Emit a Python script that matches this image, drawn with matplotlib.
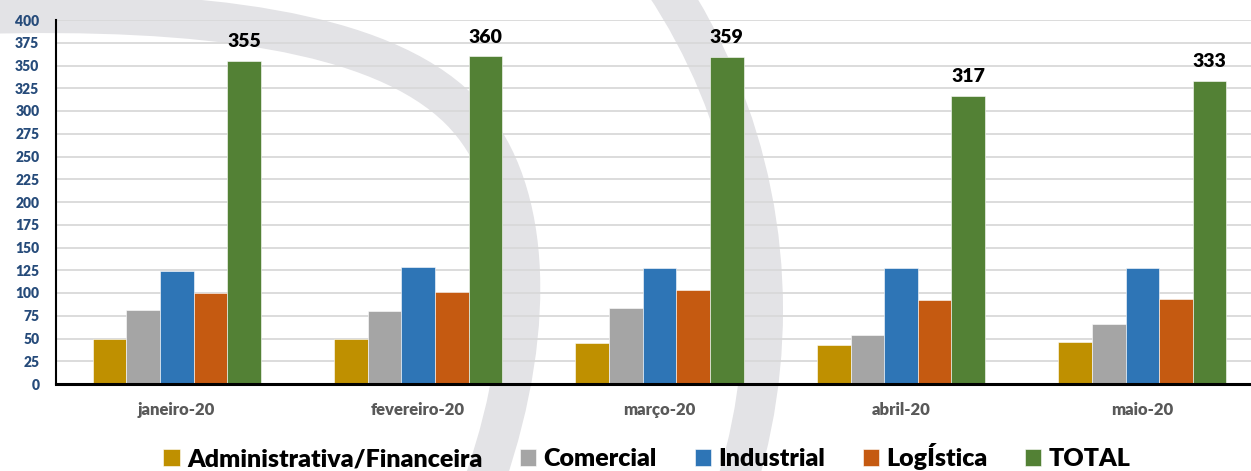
import matplotlib
matplotlib.use("Agg")
import matplotlib.pyplot as plt
import numpy as np
from matplotlib.path import Path
from matplotlib.patches import PathPatch, Circle

plt.rcParams['font.family'] = ['Lato', 'DejaVu Sans']

months = ["janeiro-20", "fevereiro-20", "março-20", "abril-20", "maio-20"]
series_names = ["Administrativa/Financeira", "Comercial", "Industrial", "LogÍstica", "TOTAL"]
admin = [50, 50, 45, 43, 46]
comercial = [81, 80, 83, 54, 66]
industrial = [124, 129, 128, 128, 128]
logistica = [100, 101, 103, 92, 93]
total = [355, 360, 359, 317, 333]
yticks = list(range(0, 401, 25))

colors = ["#BF9000", "#A5A5A5", "#2E75B6", "#C55A11", "#538135"]

W, H = 1251, 471
fig = plt.figure(figsize=(W / 100, H / 100), dpi=100)

# watermark arcs in the background (pixel coords)
bg = fig.add_axes([0, 0, 1, 1], zorder=-5)
bg.set_xlim(0, W)
bg.set_ylim(H, 0)
bg.axis("off")
wm = "#E3E3E6"
swoosh = Path([(-20, 14), (200, 8), (380, 30), (460, 110),
               (530, 180), (540, 320), (485, 480)],
              [Path.MOVETO, Path.CURVE4, Path.CURVE4, Path.CURVE4,
               Path.CURVE4, Path.CURVE4, Path.CURVE4])
bg.add_patch(PathPatch(swoosh, fill=False, edgecolor=wm, lw=40 * 0.72, capstyle="butt"))
bg.add_patch(Circle((173, 310), 590, fill=False, edgecolor=wm, lw=40 * 0.72))

ax = fig.add_axes([56 / W, 87 / H, (W - 56) / W, 364 / H])
ax.set_facecolor("none")

x = np.arange(len(months))
w = 0.1393
data = [admin, comercial, industrial, logistica, total]
for i, (vals, name, c) in enumerate(zip(data, series_names, colors)):
    ax.bar(x + (i - 2) * w, vals, w, color=c, label=name,
           edgecolor="#FFFFFF", linewidth=0.4, zorder=3)

for xi, t in zip(x, total):
    ax.annotate(str(t), (xi + 2 * w, t), xytext=(0, 10), textcoords="offset points",
                ha="center", va="baseline", fontsize=14, fontweight="heavy", color="black")

ax.set_xlim(-0.5, 4.45)
ax.set_ylim(0, 400)
ax.set_yticks(yticks)
ax.set_yticklabels([str(v) for v in yticks], fontsize=10, fontweight="heavy", color="#264B7A")
ax.set_xticks(x)
ax.set_xticklabels(months, fontsize=12, fontweight="heavy", color="#595959")
ax.tick_params(axis="y", length=0, pad=12)
ax.tick_params(axis="x", length=0, pad=13)

ax.yaxis.grid(True, color="#D9D9D9", linewidth=1.3, zorder=0)
ax.set_axisbelow(True)
for s in ["top", "right"]:
    ax.spines[s].set_visible(False)
ax.spines["left"].set_color("black")
ax.spines["left"].set_linewidth(1.5)
ax.spines["bottom"].set_color("black")
ax.spines["bottom"].set_linewidth(2.2)
ax.spines["bottom"].set_zorder(4)

handles, labels = ax.get_legend_handles_labels()
fig.legend(handles, labels, loc="center", bbox_to_anchor=(647 / W, 1 - 457 / H),
           ncol=5, frameon=False, prop={"size": 18, "weight": "heavy"},
           handlelength=0.65, handleheight=0.65, handletextpad=0.3, columnspacing=1.5)

plt.savefig("out.png", dpi=100)
print("saved out.png")
